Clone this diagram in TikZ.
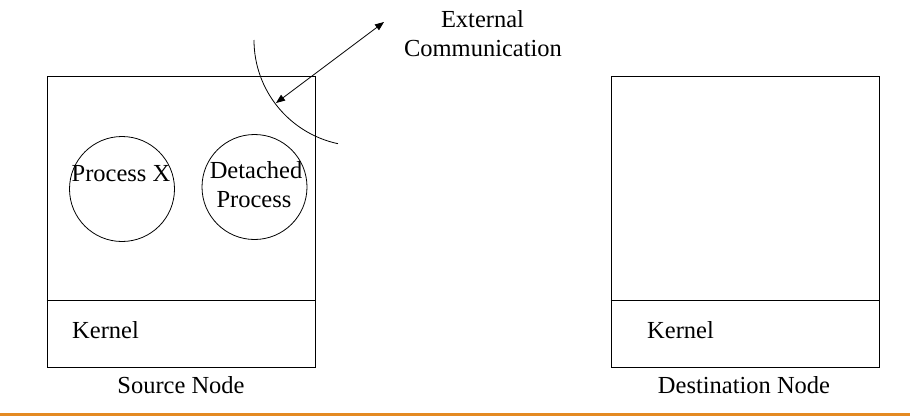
\documentclass[tikz,border=0pt]{standalone}
\usepackage{fontspec}
\setmainfont{Liberation Serif}
\newfontfamily\tnrfont{Liberation Serif}
\usetikzlibrary{arrows.meta}
\definecolor{orangeline}{RGB}{228,138,34}
\tikzset{
  nodebox/.style={draw, line width=0.9pt, rectangle, inner sep=0pt, minimum width=268pt, minimum height=291pt},
  proc/.style={draw, line width=0.8pt, circle, inner sep=0pt, minimum size=105pt},
  lbl/.style={font=\tnrfont\fontsize{24.5}{29}\selectfont, inner sep=0pt, anchor=base},
  link/.style={line width=0.8pt, {Triangle[length=9pt,width=7pt]}-{Triangle[length=9pt,width=7pt]}},
  thin/.style={line width=0.8pt}
}
\begin{document}
\begin{tikzpicture}[x=1pt,y=-1pt]
\useasboundingbox (0,0) rectangle (910,416);
% nodes (boxes)
\node[nodebox] (src) at (181,221.5) {};
\node[nodebox] (dst) at (745,221.5) {};
\coordinate (div) at (0,300);
\draw[thin] (src.west |- div) -- (src.east |- div);
\draw[thin] (dst.west |- div) -- (dst.east |- div);
% processes
\node[proc] (px) at (122,189) {};
\node[proc] (dp) at (254.5,187) {};
\node[lbl] (pxl) at (121,181.5) {Process X};
\node[lbl] (dpl1) at (256,178) {Detached};
\node[lbl] (dpl2) at (254,207) {Process};
% kernel labels
\node[lbl, anchor=base west] (k1) at (72,338) {Kernel};
\node[lbl, anchor=base west] (k2) at (647,338) {Kernel};
% captions
\node[lbl] (srcl) at (181,393.5) {Source Node};
\node[lbl] (dstl) at (744,393.5) {Destination Node};
% external communication
\node[lbl] (ext1) at (482.5,27) {External};
\node[lbl] (ext2) at (483,56.5) {Communication};
\coordinate (ea) at (384,22);
\coordinate (eb) at (276,103);
\draw[link] (ea) -- (eb);
\draw[thin] (254,40) arc[start angle=180, end angle=102, radius=106];
% bottom rule
\draw[orangeline, line width=3.5pt] (0,414.5) -- (910,414.5);
\end{tikzpicture}
\end{document}
